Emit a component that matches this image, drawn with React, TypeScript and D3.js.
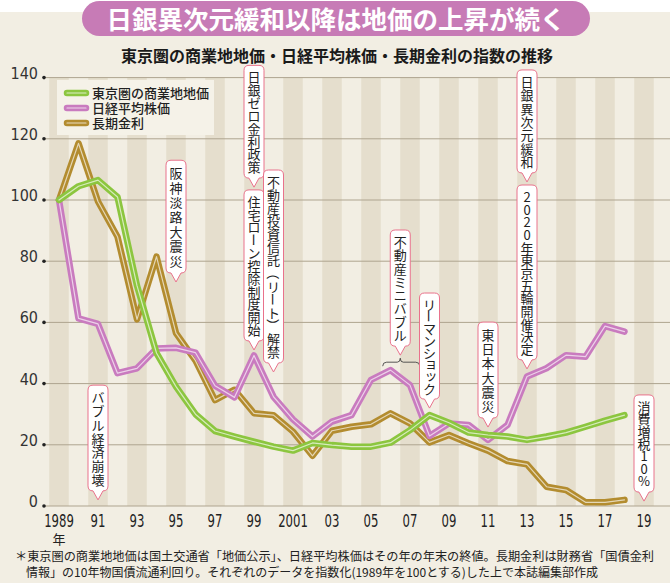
import React from 'react';
import * as d3 from 'd3';

const years = [1989, 1990, 1991, 1992, 1993, 1994, 1995, 1996, 1997, 1998, 1999, 2000, 2001, 2002, 2003, 2004, 2005, 2006, 2007, 2008, 2009, 2010, 2011, 2012, 2013, 2014, 2015, 2016, 2017, 2018];
const landPrice = [100, 104.5, 106.5, 101, 72, 50, 39, 30, 24.5, 22.7, 21, 19.4, 18.1, 20.6, 19.9, 19.4, 19.4, 20.7, 24.8, 29.7, 27.2, 24, 23.2, 22.7, 21.6, 22.7, 24, 25.9, 27.9, 29.7];
const nikkei = [100, 61.3, 59.5, 43.4, 45, 51.5, 51.7, 50.1, 39.3, 35.5, 49.2, 35.7, 28.3, 22.7, 27.6, 29.7, 41.2, 44.4, 39.5, 22.9, 27, 26.5, 21.6, 26.5, 42.3, 45, 49.3, 48.8, 58.8, 57];
const bondYield = [100, 118.5, 99.5, 88, 61, 81.5, 56.5, 47.5, 34.6, 38, 30.3, 29.7, 24.3, 16.4, 24.6, 25.9, 26.7, 30.3, 27, 20.8, 23.2, 20.5, 18.1, 14.7, 13.6, 6.3, 5.2, 1.2, 1.2, 2];

const seriesNames = ['東京圏の商業地地価', '日経平均株価', '長期金利'];
const seriesColors = ['#8cc63f', '#c97bbf', '#b38c2f'];

const yTicks = [0, 20, 40, 60, 80, 100, 120, 140];
const xTickYears = [1989, 1991, 1993, 1995, 1997, 1999, 2001, 2003, 2005, 2007, 2009, 2011, 2013, 2015, 2017, 2019];
const xTickLabels = ['1989', '91', '93', '95', '97', '99', '2001', '03', '05', '07', '09', '11', '13', '15', '17', '19'];

const annotations = [
  { text: 'バブル経済崩壊', year: 1991, top: 39.5, tip: 2 },
  { text: '阪神淡路大震災', year: 1995, top: 113, tip: 73.2 },
  { text: '日銀ゼロ金利政策', year: 1999, top: 144, tip: 104.2 },
  { text: '住宅ローン控除制度開始', year: 1999, top: 103.3, tip: 51 },
  { text: '不動産投資信託（リート）解禁', year: 2000, top: 109.8, tip: 43.8 },
  { text: '不動産ミニバブル', year: 2006.5, top: 90.2, tip: 49.3 },
  { text: 'リーマンショック', year: 2008, top: 69.6, tip: 32 },
  { text: '東日本大震災', year: 2011, top: 60.1, tip: 25.8 },
  { text: '日銀異次元緩和', year: 2013, top: 142.5, tip: 105.9 },
  { text: '2020年東京五輪開催決定', year: 2013, top: 104.9, tip: 44.8 },
  { text: '消費増税10%', year: 2019, top: 36.3, tip: 1.6 },
];

const bubbleBracket = { from: 2005.6, to: 2007.5, mid: 2006.5, value: 47 };

const titleText = '日銀異次元緩和以降は地価の上昇が続く';
const subtitleText = '東京圏の商業地地価・日経平均株価・長期金利の指数の推移';
const yearUnit = '年';
const footnote1 = '＊東京圏の商業地地価は国土交通省「地価公示」、日経平均株価はその年の年末の終値。長期金利は財務省「国債金利';
const footnote2 = '情報」の10年物国債流通利回り。それぞれのデータを指数化(1989年を100とする)した上で本誌編集部作成';

const JP = '"Noto Sans CJK JP", "Noto Sans", sans-serif';
const NARROW = '"Liberation Sans Narrow", "Arial Narrow", "DejaVu Sans Condensed", sans-serif';

const ROTATE_CHARS = 'ー（）()';
const SMALL_KANA = 'ッョャュァィゥェォっょゃゅ';

function calloutPath(cx: number, yt: number, yb: number, w = 20, r = 5, ph = 9, pw = 5) {
  const l = cx - w / 2, rr = cx + w / 2;
  return `M${l + r},${yt} H${rr - r} Q${rr},${yt} ${rr},${yt + r} V${yb - r} Q${rr},${yb} ${rr - r},${yb} H${cx + pw} L${cx},${yb + ph} L${cx - pw},${yb} H${l + r} Q${l},${yb} ${l},${yb - r} V${yt + r} Q${l},${yt} ${l + r},${yt} Z`;
}

function VerticalText({ text, cx, yt, yb, fs = 13 }: { text: string; cx: number; yt: number; yb: number; fs?: number }) {
  const chars = Array.from(text);
  const n = chars.length;
  const pitch = Math.min(15, (yb - yt - 10) / n);
  const start = (yt + yb) / 2 - (n * pitch) / 2;
  return (
    <g>
      {chars.map((c, i) => {
        const cy = start + (i + 0.5) * pitch;
        let transform: string | undefined;
        let dx = 0, dy = 0;
        if (ROTATE_CHARS.includes(c)) transform = `rotate(90,${cx},${cy})`;
        if (SMALL_KANA.includes(c)) { dx = 1.5; dy = -1.5; }
        return (
          <text key={i} x={cx + dx} y={cy + dy} transform={transform} textAnchor="middle" dominantBaseline="central"
            fontFamily={JP} fontSize={fs} fill="#222">{c}</text>
        );
      })}
    </g>
  );
}

export default function App() {
  const W = 670, H = 583;
  const x = d3.scaleLinear().domain([1989, 2019]).range([59, 644]);
  const y = d3.scaleLinear().domain([0, 140]).range([506, 77.6]);
  const yearW = x(1990) - x(1989);

  const line = d3.line<number>().x((_, i) => x(years[i])).y((v) => y(v));
  const series = [bondYield, nikkei, landPrice];
  const seriesIdx = [2, 1, 0];

  return (
    <svg width={W} height={H} style={{ position: 'absolute', left: 0, top: 0 }} xmlns="http://www.w3.org/2000/svg">
      <rect x={0} y={0} width={W} height={H} fill="#ffffff" />
      <rect x={0} y={12} width={W} height={H - 12} fill="#f2eee3" />

      {/* title pill */}
      <rect x={82} y={1} width={508} height={35} rx={17.5} fill="#c77bb6" />
      <text x={336} y={29} textAnchor="middle" fontFamily={JP} fontWeight={700} fontSize={25.5} fill="#ffffff">{titleText}</text>

      <text x={337} y={62} textAnchor="middle" fontFamily={JP} fontWeight={700} fontSize={16} fill="#1a1a1a">{subtitleText}</text>

      {/* stripes */}
      {xTickYears.map((yr) => (
        <rect key={yr} x={x(yr) - yearW / 2} y={y(140)} width={yearW} height={y(0) - y(140)} fill="#e5decd" />
      ))}

      {/* gridlines */}
      {yTicks.map((t) => (
        <g key={t}>
          <line x1={44} x2={W} y1={y(t)} y2={y(t)} stroke="#aea48f" strokeWidth={1} />
          <circle cx={44} cy={y(t)} r={1.8} fill="#222" />
          <text x={38} y={y(t) + 1} textAnchor="end" fontFamily={NARROW} fontSize={16} fill="#333">{t}</text>
        </g>
      ))}

      {/* x labels */}
      {xTickYears.map((yr, i) => (
        <text key={yr} transform={`translate(${x(yr)},527) scale(0.72,1)`} textAnchor="middle" fontFamily={NARROW} fontSize={18} fill="#222">{xTickLabels[i]}</text>
      ))}
      <text x={x(1989)} y={544} textAnchor="middle" fontFamily={JP} fontSize={13} fill="#222">{yearUnit}</text>

      {/* legend */}
      <rect x={57} y={80} width={157} height={55} fill="#f5f2e8" />
      {seriesNames.map((n, i) => (
        <g key={n}>
          <line x1={67} x2={86} y1={93 + i * 15} y2={93 + i * 15} stroke={seriesColors[i]} strokeWidth={6.5} strokeLinecap="round" />
          <line x1={67} x2={86} y1={93 + i * 15} y2={93 + i * 15} stroke="#ffffff" strokeOpacity={0.7} strokeWidth={1.2} strokeLinecap="round" />
          <text x={92} y={93 + i * 15 + 4.5} fontFamily={JP} fontSize={13} fontWeight={500} fill="#222">{n}</text>
        </g>
      ))}

      {/* series lines */}
      {series.map((s, k) => (
        <g key={k}>
          <path d={line(s) || ''} fill="none" stroke={seriesColors[seriesIdx[k]]} strokeWidth={6.5} strokeLinejoin="round" strokeLinecap="round" />
          <path d={line(s) || ''} fill="none" stroke="#ffffff" strokeOpacity={0.65} strokeWidth={1.2} strokeLinejoin="round" strokeLinecap="round" />
        </g>
      ))}

      {/* bracket */}
      {(() => {
        const a = x(bubbleBracket.from), b = x(bubbleBracket.to), m = x(bubbleBracket.mid), yy = y(bubbleBracket.value);
        return <path d={`M${a},${yy + 4} Q${a},${yy} ${a + 4},${yy} L${m - 3},${yy} Q${m},${yy} ${m},${yy - 4} Q${m},${yy} ${m + 3},${yy} L${b - 4},${yy} Q${b},${yy} ${b},${yy + 4}`} fill="none" stroke="#444" strokeWidth={0.9} />;
      })()}

      {/* callouts */}
      {annotations.map((a) => {
        const cx = x(a.year);
        const yt = y(a.top);
        const tip = y(a.tip);
        const yb = tip - 9;
        return (
          <g key={a.text}>
            <path d={calloutPath(cx, yt, yb)} fill="#ffffff" stroke="#e9728c" strokeWidth={1} />
            <VerticalText text={a.text} cx={cx} yt={yt} yb={yb} />
          </g>
        );
      })}

      {/* footnotes */}
      <text x={15} y={561} fontFamily={JP} fontSize={12.3} fill="#222" textLength={639} lengthAdjust="spacingAndGlyphs">{footnote1}</text>
      <text x={26} y={577} fontFamily={JP} fontSize={12.3} fill="#222" textLength={572} lengthAdjust="spacingAndGlyphs">{footnote2}</text>
    </svg>
  );
}
